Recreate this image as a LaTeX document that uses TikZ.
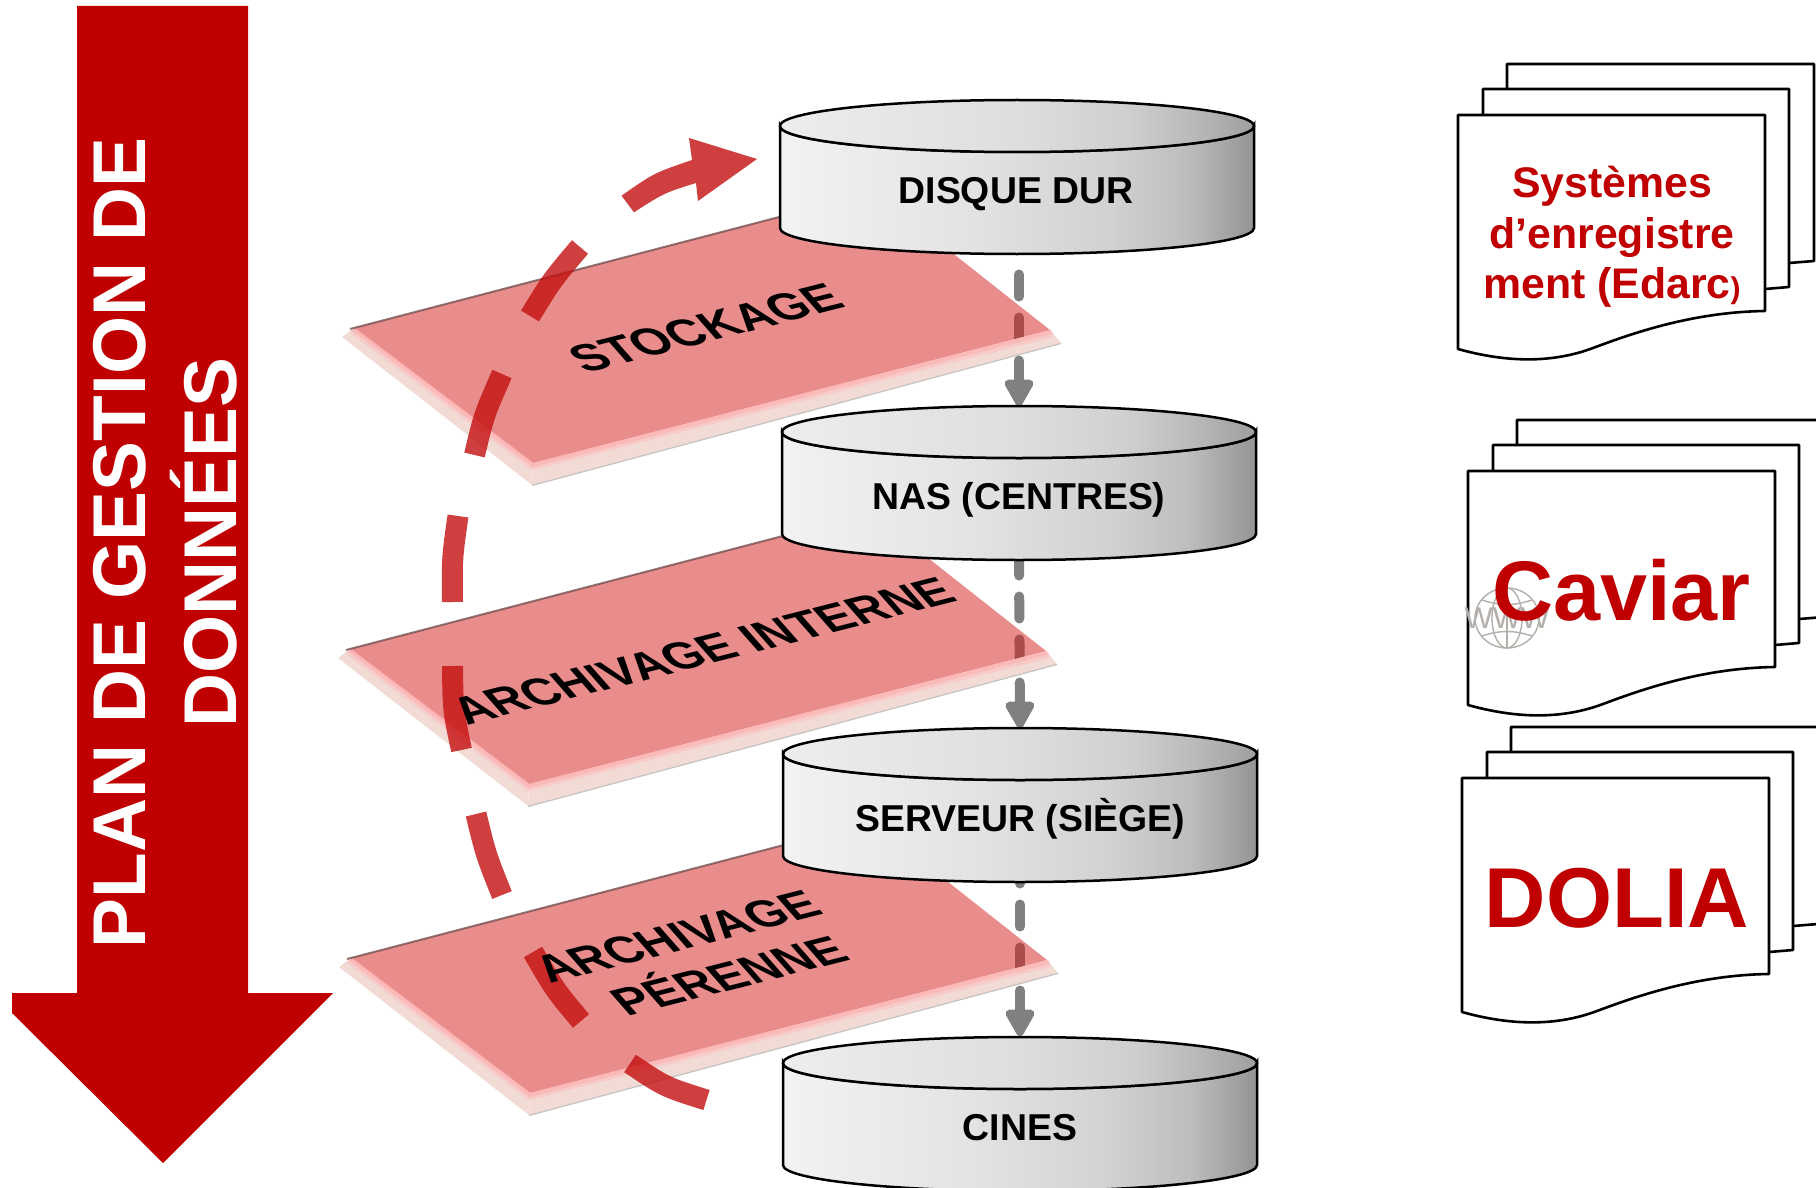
\documentclass[tikz,border=0pt]{standalone}
\usepackage{fontspec}
\setmainfont{Liberation Sans}
\usetikzlibrary{arrows.meta}
\definecolor{deepred}{HTML}{C00000}
\definecolor{arcred}{HTML}{C40F0F}
\definecolor{platered}{HTML}{D51B1B}
\definecolor{bevelc}{HTML}{F3DAD3}
\definecolor{glowc}{HTML}{FFB0B0}
\definecolor{shadowc}{HTML}{6E4A4A}
\definecolor{wwwgray}{HTML}{B3AFAB}
\pgfdeclarehorizontalshading{cylbody}{100bp}{color(0bp)=(white!95!black);color(25bp)=(white!95!black);color(45bp)=(white!89!black);color(60bp)=(white!82!black);color(68bp)=(white!74!black);color(75bp)=(white!58!black);color(100bp)=(white!58!black)}
\pgfdeclarehorizontalshading{cyltop}{100bp}{color(0bp)=(white!93!black);color(25bp)=(white!93!black);color(50bp)=(white!87!black);color(62bp)=(white!81!black);color(69bp)=(white!72!black);color(75bp)=(white!62!black);color(100bp)=(white!62!black)}
\tikzset{
  cylstroke/.style={draw=black,line width=1.25pt},
  cyllabel/.style={font=\fontsize{18.7}{22}\selectfont\bfseries,text=black,inner sep=0pt},
  sheet/.style={draw=black,fill=white,line width=1.3pt,line join=round},
  graylink/.style={draw=gray,line width=5pt,line cap=round,dash pattern=on 11pt off 10.5pt,dash phase=.5pt,{Triangle[length=15.5pt,width=16pt,fill=gray,round=false,line cap=butt]}-},
  arcpiece/.style={draw=arcred,draw opacity=.8,line width=10.5pt},
  platelabel/.style={font=\fontsize{15}{18.5}\selectfont\bfseries,text=black,inner sep=0pt,align=center,cm={1.55,.393,-1.02,1.16,(0,0)},transform shape},
  redlabel/.style={text=deepred,inner sep=0pt,font=\bfseries},
}
\newcommand{\cylshape}[2]{%
  \begin{scope}[shift={(#1,#2)}]
    \shade[shading=cylbody,cylstroke] (-237,26) -- (-237,128) .. controls (-237,142.4) and (-131,154) .. (0,154) .. controls (131,154) and (237,142.4) .. (237,128) -- (237,26) .. controls (237,40.4) and (131,52) .. (0,52) .. controls (-131,52) and (-237,40.4) .. (-237,26) -- cycle;
    \shade[shading=cyltop,cylstroke] (-237,26) .. controls (-237,11.6) and (-131,0) .. (0,0) .. controls (131,0) and (237,11.6) .. (237,26) .. controls (237,40.4) and (131,52) .. (0,52) .. controls (-131,52) and (-237,40.4) .. (-237,26) -- cycle;
  \end{scope}}
\newcommand{\plateshape}[2]{%
  \begin{scope}[shift={(#1,#2)}]
    \fill[bevelc,fill opacity=.95] (342,337) -- (532,485) -- (533,463) -- (354,328) -- cycle;
    \fill[bevelc,fill opacity=.95] (532,485) -- (1061,343) -- (1050,330) -- (533,463) -- cycle;
    \fill[platered,fill opacity=.5] (354,328) -- (875,192) -- (1050,330) -- (533,463) -- cycle;
    \draw[glowc,line width=3.5pt,opacity=.35] (352,330) -- (533,466.5) -- (1053,333.5);
    \draw[glowc,line width=2pt,opacity=.6] (354,329.5) -- (533,465) -- (1051,332);
    \draw[shadowc,line width=1pt,opacity=.75] (350,329) -- (875,192);
    \draw[black!50,line width=.6pt,opacity=.45] (532,485.5) -- (1061,343.5);
  \end{scope}}
\newcommand{\docshape}[2]{%
  \begin{scope}[shift={(#1,#2)}]
    \draw[sheet] (49,-51) -- (356,-51) -- (356,146) -- (331,148) -- (49,148) -- cycle;
    \draw[sheet] (25,-26) -- (331,-26) -- (331,172) -- (307,174) -- (25,174) -- cycle;
    \draw[sheet] (0,0) -- (307,0) -- (307,196) .. controls (235,197) and (175,218) .. (135,233) .. controls (95,248) and (50,248) .. (0,234) -- cycle;
  \end{scope}}
\begin{document}
\begin{tikzpicture}[x=.5pt,y=-.5pt]
\useasboundingbox (0,0) rectangle (1816,1188);
\clip (0,0) rectangle (1816,1188);
\fill[white] (0,0) rectangle (1816,1188);

% big arrow
\fill[deepred] (77,6) -- (248,6) -- (248,993) -- (333,993) -- (163,1163) -- (12,1013) -- (12,993) -- (77,993) -- cycle;
\node[rotate=90,text=white,inner sep=0pt,align=center,font=\fontsize{37.4}{45.5}\selectfont\bfseries] (plan) at (165,543) {PLAN DE GESTION DE\\DONNÉES};

% anchor points of the cylinders
\coordinate (c1b) at (1019,254);
\coordinate (c2t) at (1019,406);
\coordinate (c2b) at (1019,560);
\coordinate (c3t) at (1020,728);
\coordinate (c3b) at (1020,882);
\coordinate (c4t) at (1020,1036);

% grey links
\draw[graylink] (c2t) -- (c1b);
\draw[graylink] (c3t) -- (c2b);
\draw[graylink] (c4t) -- (c3b);

% plates
\plateshape{0}{0}
\plateshape{-4}{321}
\plateshape{-3}{630}

% cylinders
\cylshape{1017}{100}
\cylshape{1019}{406}
\cylshape{1020}{728}
\cylshape{1020}{1037}
\node[cyllabel] (disque) at (1016,194.5) {DISQUE DUR};
\node[cyllabel] (nas) at (1019,500) {NAS (CENTRES)};
\node[cyllabel] (serveur) at (1020,819) {SERVEUR (SIÈGE)};
\node[cyllabel] (cines) at (1020,1128) {CINES};

% red dashed arc
\fill[arcred,fill opacity=.8] (621.5,195.7) .. controls (654,173) .. (692,160) -- (689,138) -- (757,159) -- (698,201) -- (696,183) .. controls (664,193) .. (634,212.3) -- cycle;
\draw[arcpiece] (580,247) .. controls (552,280) .. (530,316);
\draw[arcpiece] (502,374) .. controls (484,415) .. (474.5,455);
\draw[arcpiece] (458,516) .. controls (452,558) .. (452.5,602);
\draw[arcpiece] (452.5,666) .. controls (453,710) .. (461.5,750);
\draw[arcpiece] (476,814) .. controls (486,855) .. (502,895);
\draw[arcpiece] (533,952) .. controls (555,990) .. (581,1021);
\draw[arcpiece] (630,1063.5) .. controls (665,1087) .. (706.5,1100);

% plate labels
\node[platelabel] (stock) at (706,328) {STOCKAGE};
\node[platelabel] (interne) at (703,651) {ARCHIVAGE INTERNE};
\node[platelabel] (perenne) at (696,958) {ARCHIVAGE\\\hspace*{9.4pt}PÉRENNE};

% documents
\docshape{1458}{115}
\docshape{1468}{471}
\docshape{1462}{778}

% www globe
\begin{scope}[wwwgray,line width=.7pt]
  \draw (1507,618) ellipse (32 and 30);
  \draw (1507,618) ellipse (15 and 30);
  \draw (1507,588) -- (1507,648);
  \draw (1482,600) .. controls (1500,606) and (1514,606) .. (1532,600);
  \draw (1482,636) .. controls (1500,630) and (1514,630) .. (1532,636);
\end{scope}
\node[text=wwwgray,inner sep=0pt,font=\fontsize{15}{17}\selectfont] (www) at (1507,618) {WWW};

\node[redlabel,align=center,font=\fontsize{21.4}{25.25}\selectfont\bfseries] (sys) at (1612,237) {Systèmes\\d’enregistre\\ment (Edarc{\fontsize{15}{15}\selectfont)}};
\node[redlabel,anchor=base,font=\fontsize{42.3}{46}\selectfont\bfseries] (caviar) at (1621.5,620) {Caviar};
\node[redlabel,anchor=base,font=\fontsize{42.5}{46}\selectfont\bfseries] (dolia) at (1617,927) {DOLIA};
\end{tikzpicture}
\end{document}
